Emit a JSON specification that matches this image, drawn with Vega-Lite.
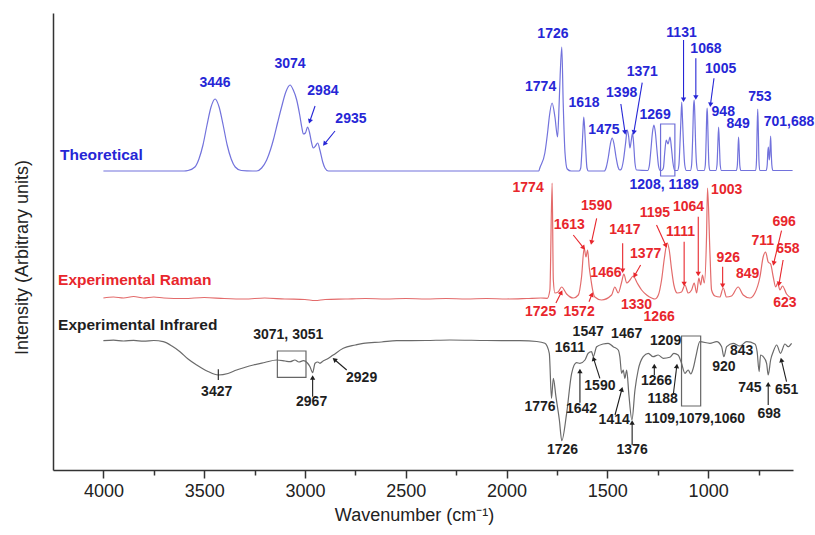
{
"$schema": "https://vega.github.io/schema/vega-lite/v6.json",
"width": 740, "height": 457,
"autosize": {"type": "none"},
"padding": {"left": 53, "top": 13, "right": 22, "bottom": 65},
"config": {"view": {"stroke": null}, "font": "Liberation Sans", "background": "white"},
"datasets": {
"spec": [
{"s":"T","wn":4000,"v":299},{"s":"T","wn":3600,"v":299},{"s":"T","wn":3580,"v":299.5},{"s":"T","wn":3546,"v":303},{"s":"T","wn":3526,"v":311},{"s":"T","wn":3506,"v":325},{"s":"T","wn":3486,"v":345},{"s":"T","wn":3466,"v":363},{"s":"T","wn":3446,"v":371},{"s":"T","wn":3426,"v":363},{"s":"T","wn":3406,"v":345},{"s":"T","wn":3386,"v":325},{"s":"T","wn":3366,"v":311},{"s":"T","wn":3346,"v":303},{"s":"T","wn":3316,"v":299.5},{"s":"T","wn":3260,"v":299},{"s":"T","wn":3240,"v":299},{"s":"T","wn":3215,"v":302},{"s":"T","wn":3190,"v":310},{"s":"T","wn":3170,"v":321},{"s":"T","wn":3157,"v":330},{"s":"T","wn":3135,"v":348},{"s":"T","wn":3116,"v":363},{"s":"T","wn":3095,"v":378},{"s":"T","wn":3074,"v":385},{"s":"T","wn":3058,"v":380},{"s":"T","wn":3041,"v":370},{"s":"T","wn":3026,"v":355},{"s":"T","wn":3016,"v":343},{"s":"T","wn":3008,"v":336},{"s":"T","wn":2998,"v":337},{"s":"T","wn":2987,"v":343},{"s":"T","wn":2978,"v":338},{"s":"T","wn":2968,"v":328},{"s":"T","wn":2959,"v":322},{"s":"T","wn":2948,"v":324},{"s":"T","wn":2937,"v":327},{"s":"T","wn":2926,"v":320},{"s":"T","wn":2912,"v":308},{"s":"T","wn":2901,"v":302},{"s":"T","wn":2884,"v":299},{"s":"T","wn":1840,"v":299},{"s":"T","wn":1835,"v":302},{"s":"T","wn":1810,"v":317},{"s":"T","wn":1795,"v":340},{"s":"T","wn":1788,"v":353},{"s":"T","wn":1774,"v":367},{"s":"T","wn":1760,"v":353},{"s":"T","wn":1747,"v":333},{"s":"T","wn":1739,"v":367},{"s":"T","wn":1734,"v":395},{"s":"T","wn":1726,"v":423},{"s":"T","wn":1719,"v":367},{"s":"T","wn":1710,"v":317},{"s":"T","wn":1699,"v":301},{"s":"T","wn":1680,"v":299},{"s":"T","wn":1640,"v":299},{"s":"T","wn":1632,"v":302},{"s":"T","wn":1626,"v":320},{"s":"T","wn":1621,"v":340},{"s":"T","wn":1617,"v":353},{"s":"T","wn":1612,"v":340},{"s":"T","wn":1607,"v":320},{"s":"T","wn":1601,"v":302},{"s":"T","wn":1594,"v":299},{"s":"T","wn":1515,"v":299},{"s":"T","wn":1505,"v":303},{"s":"T","wn":1495,"v":313},{"s":"T","wn":1485,"v":326},{"s":"T","wn":1476,"v":332},{"s":"T","wn":1467,"v":326},{"s":"T","wn":1457,"v":313},{"s":"T","wn":1447,"v":303},{"s":"T","wn":1438,"v":300},{"s":"T","wn":1432,"v":300.5},{"s":"T","wn":1420,"v":310},{"s":"T","wn":1410,"v":326},{"s":"T","wn":1401,"v":340},{"s":"T","wn":1394,"v":333},{"s":"T","wn":1388,"v":322},{"s":"T","wn":1381,"v":330},{"s":"T","wn":1375,"v":337},{"s":"T","wn":1369,"v":325},{"s":"T","wn":1363,"v":307},{"s":"T","wn":1355,"v":300},{"s":"T","wn":1300,"v":299.5},{"s":"T","wn":1292,"v":304},{"s":"T","wn":1284,"v":320},{"s":"T","wn":1276,"v":338},{"s":"T","wn":1269,"v":345},{"s":"T","wn":1262,"v":338},{"s":"T","wn":1254,"v":320},{"s":"T","wn":1246,"v":304},{"s":"T","wn":1238,"v":299.5},{"s":"T","wn":1230,"v":299.5},{"s":"T","wn":1222,"v":302},{"s":"T","wn":1215,"v":318},{"s":"T","wn":1208,"v":330},{"s":"T","wn":1199,"v":326},{"s":"T","wn":1189,"v":333},{"s":"T","wn":1182,"v":322},{"s":"T","wn":1175,"v":308},{"s":"T","wn":1166,"v":299.5},{"s":"T","wn":1152,"v":299.5},{"s":"T","wn":1145,"v":305},{"s":"T","wn":1140,"v":325},{"s":"T","wn":1135,"v":350},{"s":"T","wn":1131,"v":368},{"s":"T","wn":1127,"v":350},{"s":"T","wn":1122,"v":325},{"s":"T","wn":1116,"v":305},{"s":"T","wn":1108,"v":299.5},{"s":"T","wn":1088,"v":299.5},{"s":"T","wn":1082,"v":305},{"s":"T","wn":1077,"v":330},{"s":"T","wn":1072,"v":365},{"s":"T","wn":1069,"v":370},{"s":"T","wn":1066,"v":355},{"s":"T","wn":1062,"v":325},{"s":"T","wn":1057,"v":305},{"s":"T","wn":1051,"v":299.5},{"s":"T","wn":1020,"v":299.5},{"s":"T","wn":1014,"v":305},{"s":"T","wn":1010,"v":330},{"s":"T","wn":1007,"v":355},{"s":"T","wn":1005,"v":362},{"s":"T","wn":1003,"v":355},{"s":"T","wn":1000,"v":330},{"s":"T","wn":996,"v":305},{"s":"T","wn":991,"v":299.5},{"s":"T","wn":962,"v":299.5},{"s":"T","wn":956,"v":305},{"s":"T","wn":952,"v":325},{"s":"T","wn":948,"v":343},{"s":"T","wn":944,"v":325},{"s":"T","wn":940,"v":305},{"s":"T","wn":934,"v":299.5},{"s":"T","wn":860,"v":299.5},{"s":"T","wn":855,"v":305},{"s":"T","wn":852,"v":320},{"s":"T","wn":849,"v":333},{"s":"T","wn":846,"v":320},{"s":"T","wn":843,"v":305},{"s":"T","wn":838,"v":299.5},{"s":"T","wn":764,"v":299.5},{"s":"T","wn":760,"v":310},{"s":"T","wn":757,"v":340},{"s":"T","wn":754,"v":361},{"s":"T","wn":751,"v":340},{"s":"T","wn":748,"v":310},{"s":"T","wn":744,"v":299.5},{"s":"T","wn":712,"v":299.5},{"s":"T","wn":707,"v":305},{"s":"T","wn":704,"v":318},{"s":"T","wn":701,"v":323},{"s":"T","wn":697,"v":310},{"s":"T","wn":694,"v":315},{"s":"T","wn":690,"v":334},{"s":"T","wn":687,"v":318},{"s":"T","wn":684,"v":305},{"s":"T","wn":679,"v":299.5},{"s":"T","wn":581,"v":299.5},
{"s":"R","wn":4000,"v":172},{"s":"R","wn":3950,"v":173},{"s":"R","wn":3900,"v":172},{"s":"R","wn":3850,"v":173.5},{"s":"R","wn":3800,"v":172},{"s":"R","wn":3750,"v":173},{"s":"R","wn":3700,"v":172},{"s":"R","wn":3600,"v":171.5},{"s":"R","wn":3500,"v":172.5},{"s":"R","wn":3400,"v":171.5},{"s":"R","wn":3300,"v":171},{"s":"R","wn":3200,"v":172},{"s":"R","wn":3100,"v":171},{"s":"R","wn":3000,"v":170.5},{"s":"R","wn":2950,"v":169.5},{"s":"R","wn":2900,"v":170.5},{"s":"R","wn":2800,"v":171},{"s":"R","wn":2700,"v":171.5},{"s":"R","wn":2600,"v":171},{"s":"R","wn":2500,"v":171.5},{"s":"R","wn":2400,"v":171},{"s":"R","wn":2300,"v":171.5},{"s":"R","wn":2200,"v":171},{"s":"R","wn":2100,"v":171.5},{"s":"R","wn":2000,"v":171},{"s":"R","wn":1900,"v":171.5},{"s":"R","wn":1830,"v":172},{"s":"R","wn":1798,"v":171.7},{"s":"R","wn":1785,"v":180},{"s":"R","wn":1774,"v":287},{"s":"R","wn":1768,"v":190},{"s":"R","wn":1760,"v":177},{"s":"R","wn":1744,"v":178},{"s":"R","wn":1727,"v":183},{"s":"R","wn":1702,"v":176},{"s":"R","wn":1669,"v":172},{"s":"R","wn":1644,"v":175},{"s":"R","wn":1628,"v":193},{"s":"R","wn":1615,"v":222},{"s":"R","wn":1606,"v":213},{"s":"R","wn":1598,"v":220},{"s":"R","wn":1590,"v":203},{"s":"R","wn":1581,"v":190},{"s":"R","wn":1573,"v":180},{"s":"R","wn":1562,"v":173},{"s":"R","wn":1529,"v":170},{"s":"R","wn":1479,"v":175},{"s":"R","wn":1463,"v":183},{"s":"R","wn":1446,"v":177},{"s":"R","wn":1429,"v":188},{"s":"R","wn":1418,"v":196},{"s":"R","wn":1404,"v":187},{"s":"R","wn":1388,"v":190},{"s":"R","wn":1372,"v":194},{"s":"R","wn":1352,"v":187},{"s":"R","wn":1330,"v":180},{"s":"R","wn":1305,"v":175},{"s":"R","wn":1280,"v":172},{"s":"R","wn":1264,"v":171},{"s":"R","wn":1247,"v":175},{"s":"R","wn":1231,"v":190},{"s":"R","wn":1217,"v":212},{"s":"R","wn":1203,"v":227},{"s":"R","wn":1193,"v":220},{"s":"R","wn":1181,"v":200},{"s":"R","wn":1170,"v":185},{"s":"R","wn":1153,"v":177},{"s":"R","wn":1132,"v":178},{"s":"R","wn":1115,"v":185},{"s":"R","wn":1099,"v":177},{"s":"R","wn":1082,"v":180},{"s":"R","wn":1069,"v":187},{"s":"R","wn":1057,"v":177},{"s":"R","wn":1046,"v":192},{"s":"R","wn":1037,"v":185},{"s":"R","wn":1028,"v":195},{"s":"R","wn":1019,"v":187},{"s":"R","wn":1008,"v":233},{"s":"R","wn":1003,"v":282},{"s":"R","wn":991,"v":217},{"s":"R","wn":983,"v":180},{"s":"R","wn":966,"v":174},{"s":"R","wn":942,"v":173},{"s":"R","wn":925,"v":182},{"s":"R","wn":909,"v":173},{"s":"R","wn":884,"v":174},{"s":"R","wn":851,"v":183},{"s":"R","wn":826,"v":175},{"s":"R","wn":793,"v":172},{"s":"R","wn":768,"v":177},{"s":"R","wn":743,"v":193},{"s":"R","wn":727,"v":213},{"s":"R","wn":715,"v":218},{"s":"R","wn":702,"v":208},{"s":"R","wn":690,"v":206},{"s":"R","wn":677,"v":193},{"s":"R","wn":665,"v":183},{"s":"R","wn":655,"v":187},{"s":"R","wn":644,"v":180},{"s":"R","wn":631,"v":184},{"s":"R","wn":611,"v":176},{"s":"R","wn":586,"v":172},
{"s":"I","wn":4000,"v":129.3},{"s":"I","wn":3950,"v":129.8},{"s":"I","wn":3900,"v":129},{"s":"I","wn":3850,"v":129.6},{"s":"I","wn":3800,"v":128.8},{"s":"I","wn":3750,"v":129.5},{"s":"I","wn":3703,"v":128.3},{"s":"I","wn":3660,"v":124},{"s":"I","wn":3620,"v":118.3},{"s":"I","wn":3580,"v":111},{"s":"I","wn":3537,"v":105},{"s":"I","wn":3481,"v":98.5},{"s":"I","wn":3430,"v":95},{"s":"I","wn":3382,"v":96.5},{"s":"I","wn":3339,"v":100},{"s":"I","wn":3300,"v":102.5},{"s":"I","wn":3256,"v":105},{"s":"I","wn":3200,"v":107.5},{"s":"I","wn":3140,"v":110},{"s":"I","wn":3099,"v":109},{"s":"I","wn":3074,"v":108.3},{"s":"I","wn":3050,"v":110},{"s":"I","wn":3030,"v":108},{"s":"I","wn":3008,"v":109.3},{"s":"I","wn":2988,"v":107},{"s":"I","wn":2975,"v":103.3},{"s":"I","wn":2962,"v":97.3},{"s":"I","wn":2950,"v":106.7},{"s":"I","wn":2936,"v":108},{"s":"I","wn":2926,"v":106.7},{"s":"I","wn":2910,"v":109},{"s":"I","wn":2892,"v":110.7},{"s":"I","wn":2860,"v":115},{"s":"I","wn":2810,"v":121.7},{"s":"I","wn":2750,"v":125},{"s":"I","wn":2711,"v":126.7},{"s":"I","wn":2620,"v":128},{"s":"I","wn":2545,"v":129.3},{"s":"I","wn":2400,"v":129.5},{"s":"I","wn":2281,"v":130},{"s":"I","wn":2100,"v":129.5},{"s":"I","wn":1934,"v":129.3},{"s":"I","wn":1850,"v":128.5},{"s":"I","wn":1810,"v":126.7},{"s":"I","wn":1788,"v":116.7},{"s":"I","wn":1777,"v":71.7},{"s":"I","wn":1768,"v":91.7},{"s":"I","wn":1755,"v":73.3},{"s":"I","wn":1738,"v":50},{"s":"I","wn":1726,"v":29.3},{"s":"I","wn":1702,"v":56.7},{"s":"I","wn":1677,"v":96.7},{"s":"I","wn":1653,"v":107.3},{"s":"I","wn":1636,"v":106.7},{"s":"I","wn":1611,"v":110},{"s":"I","wn":1595,"v":116.7},{"s":"I","wn":1578,"v":118.3},{"s":"I","wn":1570,"v":113.3},{"s":"I","wn":1553,"v":123.3},{"s":"I","wn":1521,"v":126},{"s":"I","wn":1496,"v":126.7},{"s":"I","wn":1471,"v":123.3},{"s":"I","wn":1446,"v":120},{"s":"I","wn":1438,"v":113.3},{"s":"I","wn":1429,"v":96.7},{"s":"I","wn":1421,"v":100},{"s":"I","wn":1413,"v":91.7},{"s":"I","wn":1404,"v":100},{"s":"I","wn":1393,"v":75},{"s":"I","wn":1378,"v":50},{"s":"I","wn":1363,"v":80},{"s":"I","wn":1347,"v":100},{"s":"I","wn":1322,"v":113.3},{"s":"I","wn":1297,"v":116.7},{"s":"I","wn":1273,"v":113.3},{"s":"I","wn":1248,"v":115},{"s":"I","wn":1223,"v":111.7},{"s":"I","wn":1190,"v":112.7},{"s":"I","wn":1170,"v":116.7},{"s":"I","wn":1149,"v":115},{"s":"I","wn":1132,"v":106.7},{"s":"I","wn":1115,"v":96.7},{"s":"I","wn":1099,"v":100},{"s":"I","wn":1086,"v":96},{"s":"I","wn":1074,"v":101.7},{"s":"I","wn":1061,"v":113.3},{"s":"I","wn":1041,"v":128.3},{"s":"I","wn":991,"v":126.7},{"s":"I","wn":958,"v":128.3},{"s":"I","wn":933,"v":123.3},{"s":"I","wn":922,"v":113.3},{"s":"I","wn":908,"v":123.3},{"s":"I","wn":876,"v":126.7},{"s":"I","wn":842,"v":124},{"s":"I","wn":809,"v":128.3},{"s":"I","wn":768,"v":126},{"s":"I","wn":757,"v":118.3},{"s":"I","wn":747,"v":98.3},{"s":"I","wn":740,"v":115},{"s":"I","wn":727,"v":113.3},{"s":"I","wn":710,"v":106.7},{"s":"I","wn":702,"v":95},{"s":"I","wn":690,"v":110},{"s":"I","wn":677,"v":118.3},{"s":"I","wn":660,"v":125},{"s":"I","wn":641,"v":116.7},{"s":"I","wn":619,"v":126},{"s":"I","wn":603,"v":123.3},{"s":"I","wn":586,"v":126.7}
],
"labels": [
{"s":"T","wn":3446,"v":387,"t":"3446"},{"s":"T","wn":3074,"v":406,"t":"3074"},{"s":"T","wn":2911,"v":379,"t":"2984"},{"s":"T","wn":2772,"v":351,"t":"2935"},{"s":"T","wn":1770,"v":436,"t":"1726"},{"s":"T","wn":1831,"v":383,"t":"1774"},{"s":"T","wn":1616,"v":367,"t":"1618"},{"s":"T","wn":1517,"v":340,"t":"1475"},{"s":"T","wn":1429,"v":377,"t":"1398"},{"s":"T","wn":1327,"v":398,"t":"1371"},{"s":"T","wn":1263,"v":355,"t":"1269"},{"s":"T","wn":1218,"v":285,"t":"1208, 1189"},{"s":"T","wn":1132,"v":437,"t":"1131"},{"s":"T","wn":1011,"v":421,"t":"1068"},{"s":"T","wn":938,"v":401,"t":"1005"},{"s":"T","wn":925,"v":358,"t":"948"},{"s":"T","wn":851,"v":346,"t":"849"},{"s":"T","wn":743,"v":373,"t":"753"},{"s":"T","wn":599,"v":348,"t":"701,688"},
{"s":"R","wn":1893,"v":282,"t":"1774"},{"s":"R","wn":1689,"v":245,"t":"1613"},{"s":"R","wn":1553,"v":264,"t":"1590"},{"s":"R","wn":1413,"v":240,"t":"1417"},{"s":"R","wn":1310,"v":216,"t":"1377"},{"s":"R","wn":1507,"v":197,"t":"1466"},{"s":"R","wn":1264,"v":257,"t":"1195"},{"s":"R","wn":1097,"v":263,"t":"1064"},{"s":"R","wn":1137,"v":238,"t":"1111"},{"s":"R","wn":908,"v":280,"t":"1003"},{"s":"R","wn":900,"v":212,"t":"926"},{"s":"R","wn":804,"v":196,"t":"849"},{"s":"R","wn":729,"v":229,"t":"711"},{"s":"R","wn":623,"v":248,"t":"696"},{"s":"R","wn":604,"v":221,"t":"658"},{"s":"R","wn":619,"v":167,"t":"623"},{"s":"R","wn":1831,"v":158,"t":"1725"},{"s":"R","wn":1640,"v":158,"t":"1572"},{"s":"R","wn":1355,"v":165,"t":"1330"},{"s":"R","wn":1243,"v":153,"t":"1266"},
{"s":"I","wn":1595,"v":138,"t":"1547"},{"s":"I","wn":1404,"v":136,"t":"1467"},{"s":"I","wn":1686,"v":122,"t":"1611"},{"s":"I","wn":1211,"v":129,"t":"1209"},{"s":"I","wn":834,"v":119,"t":"843"},{"s":"I","wn":922,"v":103,"t":"920"},{"s":"I","wn":1537,"v":84,"t":"1590"},{"s":"I","wn":1256,"v":89,"t":"1266"},{"s":"I","wn":1834,"v":63,"t":"1776"},{"s":"I","wn":1628,"v":61,"t":"1642"},{"s":"I","wn":1466,"v":50,"t":"1414"},{"s":"I","wn":1226,"v":71,"t":"1188"},{"s":"I","wn":1066,"v":51,"t":"1109,1079,1060"},{"s":"I","wn":793,"v":82,"t":"745"},{"s":"I","wn":611,"v":80,"t":"651"},{"s":"I","wn":697,"v":56,"t":"698"},{"s":"I","wn":1722,"v":20,"t":"1726"},{"s":"I","wn":1377,"v":20,"t":"1376"},{"s":"I","wn":3438,"v":78,"t":"3427"},{"s":"I","wn":2967,"v":68,"t":"2967"},{"s":"I","wn":2719,"v":92,"t":"2929"},{"s":"I","wn":3083,"v":135,"t":"3071, 3051"}
],
"names": [
{"s":"T","wn":4215,"v":315,"t":"Theoretical"},{"s":"R","wn":4225,"v":190,"t":"Experimental Raman"},{"s":"I","wn":4225,"v":145,"t":"Experimental Infrared"}
],
"boxes": [
{"s":"T","wn":1236,"wn2":1165,"v":346,"v2":294},{"s":"I","wn":3137,"wn2":2995,"v":119,"v2":92.7},{"s":"I","wn":1132,"wn2":1037,"v":134,"v2":64}
],
"arrows": [
{"s":"T","wn":2950,"v":364,"wn2":2975,"v2":349.3,"angle":199},{"s":"T","wn":2851,"v":339,"wn2":2901,"v2":326.7,"angle":219},{"s":"T","wn":1433,"v":366,"wn2":1413,"v2":338.3,"angle":172},{"s":"T","wn":1327,"v":387.3,"wn2":1368,"v2":338.3,"angle":190},{"s":"T","wn":1122,"v":430,"wn2":1122,"v2":371,"angle":180},{"s":"T","wn":1061,"v":411.7,"wn2":1061,"v2":373.3,"angle":180},{"s":"T","wn":971,"v":391.7,"wn2":988,"v2":366,"angle":187},
{"s":"R","wn":1669,"v":235,"wn2":1620,"v2":222.7,"angle":141},{"s":"R","wn":1553,"v":251.7,"wn2":1578,"v2":228.3,"angle":192},{"s":"R","wn":1424,"v":226.7,"wn2":1424,"v2":200,"angle":180},{"s":"R","wn":1335,"v":205,"wn2":1363,"v2":195,"angle":210},{"s":"R","wn":1256,"v":245,"wn2":1211,"v2":225,"angle":156},{"s":"R","wn":1119,"v":228.3,"wn2":1119,"v2":186.7,"angle":180},{"s":"R","wn":1049,"v":253.3,"wn2":1049,"v2":196.7,"angle":180},{"s":"R","wn":928,"v":203.3,"wn2":928,"v2":185,"angle":180},{"s":"R","wn":636,"v":239.3,"wn2":674,"v2":207.3,"angle":193},{"s":"R","wn":628,"v":210,"wn2":648,"v2":186.7,"angle":190},{"s":"R","wn":1755,"v":167,"wn2":1730,"v2":177,"angle":27},{"s":"R","wn":1591,"v":168.3,"wn2":1578,"v2":175,"angle":22},
{"s":"I","wn":1636,"v":67.3,"wn2":1636,"v2":98.3,"angle":0},{"s":"I","wn":1537,"v":91.7,"wn2":1567,"v2":110.7,"angle":342},{"s":"I","wn":1462,"v":55,"wn2":1429,"v2":80,"angle":15},{"s":"I","wn":1377,"v":25,"wn2":1377,"v2":46.7,"angle":0},{"s":"I","wn":1267,"v":95,"wn2":1267,"v2":103.3,"angle":0},{"s":"I","wn":1173,"v":75,"wn2":1156,"v2":103.3,"angle":7},{"s":"I","wn":702,"v":65,"wn2":702,"v2":85,"angle":0},{"s":"I","wn":611,"v":88.3,"wn2":636,"v2":109.3,"angle":347},{"s":"I","wn":2962,"v":73.3,"wn2":2962,"v2":91.7,"angle":0},{"s":"I","wn":2793,"v":100,"wn2":2851,"v2":110,"angle":310},{"s":"I","wn":3430,"v":90,"wn2":3430,"v2":100.7}
]
},
"resolve": {"scale": {"color": "independent"}},
"layer": [
{
"data": {"name": "spec"},
"mark": {"type": "line", "strokeWidth": 1.2, "interpolate": "monotone"},
"encoding": {
"x": {"field": "wn", "type": "quantitative",
  "scale": {"domain": [579, 4250], "reverse": true, "nice": false, "zero": false},
  "axis": {"title": "Wavenumber (cm⁻¹)", "values": [4000,3750,3500,3250,3000,2750,2500,2250,2000,1750,1500,1250,1000,750],
    "labelExpr": "datum.value % 500 === 0 ? datum.label : ''", "format": "d",
    "tickSize": {"condition": {"test": "datum.value % 500 === 0", "value": 8}, "value": 5},
    "grid": false, "domainColor": "#333", "domainWidth": 1.5, "tickColor": "#333", "tickWidth": 1.5,
    "labelFontSize": 18, "labelColor": "#222", "labelPadding": 4, "labelFlush": false, "labelFont": "Liberation Sans",
    "titleFontSize": 18, "titleFontWeight": "normal", "titleColor": "#222", "titleFont": "Liberation Sans",
    "titleX": 361, "titleY": 45, "titleAlign": "center", "titleBaseline": "middle"}},
"y": {"field": "v", "type": "quantitative",
  "scale": {"domain": [0, 457], "nice": false, "zero": false},
  "axis": {"title": "Intensity (Arbitrary units)", "ticks": false, "labels": false, "grid": false,
    "domainColor": "#333", "domainWidth": 1.5, "titleFontSize": 18, "titleFontWeight": "normal", "titleColor": "#222",
    "titleFont": "Liberation Sans", "titleX": -31, "titleY": 244, "titleAngle": -90, "titleAlign": "center", "titleBaseline": "middle"}},
"color": {"field": "s", "type": "nominal", "scale": {"domain": ["T","R","I"], "range": ["#7272dc","#e36b6b","#6a6a6a"]}, "legend": null},
"order": {"field": "wn", "sort": "descending"}
}
},
{
"data": {"name": "boxes"},
"mark": {"type": "rect", "filled": false, "strokeWidth": 1.2},
"encoding": {
"x": {"field": "wn", "type": "quantitative"}, "x2": {"field": "wn2"},
"y": {"field": "v", "type": "quantitative"}, "y2": {"field": "v2"},
"stroke": {"field": "s", "type": "nominal", "scale": {"domain": ["T","I"], "range": ["#6e6ed8","#666666"]}, "legend": null}
}
},
{
"data": {"name": "arrows"},
"mark": {"type": "rule", "strokeWidth": 1.1},
"encoding": {
"x": {"field": "wn", "type": "quantitative"}, "x2": {"field": "wn2"},
"y": {"field": "v", "type": "quantitative"}, "y2": {"field": "v2"},
"color": {"field": "s", "type": "nominal", "scale": {"domain": ["T","R","I"], "range": ["#2626d6","#e8262c","#1e1e1e"]}, "legend": null}
}
},
{
"data": {"name": "arrows"},
"transform": [{"filter": "isValid(datum.angle)"}],
"mark": {"type": "point", "shape": "triangle", "filled": true, "size": 28, "opacity": 1},
"encoding": {
"x": {"field": "wn2", "type": "quantitative"},
"y": {"field": "v2", "type": "quantitative"},
"angle": {"field": "angle", "type": "quantitative", "scale": null},
"color": {"field": "s", "type": "nominal", "scale": {"domain": ["T","R","I"], "range": ["#2626d6","#e8262c","#1e1e1e"]}, "legend": null}
}
},
{
"data": {"name": "labels"},
"mark": {"type": "text", "fontWeight": "bold", "fontSize": 14, "align": "center", "baseline": "middle", "font": "Liberation Sans"},
"encoding": {
"x": {"field": "wn", "type": "quantitative"},
"y": {"field": "v", "type": "quantitative"},
"text": {"field": "t"},
"color": {"field": "s", "type": "nominal", "scale": {"domain": ["T","R","I"], "range": ["#2626d6","#e8262c","#1e1e1e"]}, "legend": null}
}
},
{
"data": {"name": "names"},
"mark": {"type": "text", "fontWeight": "bold", "fontSize": 15.5, "align": "left", "baseline": "middle", "font": "Liberation Sans"},
"encoding": {
"x": {"field": "wn", "type": "quantitative"},
"y": {"field": "v", "type": "quantitative"},
"text": {"field": "t"},
"color": {"field": "s", "type": "nominal", "scale": {"domain": ["T","R","I"], "range": ["#2626d6","#e8262c","#1e1e1e"]}, "legend": null}
}
}
]
}
